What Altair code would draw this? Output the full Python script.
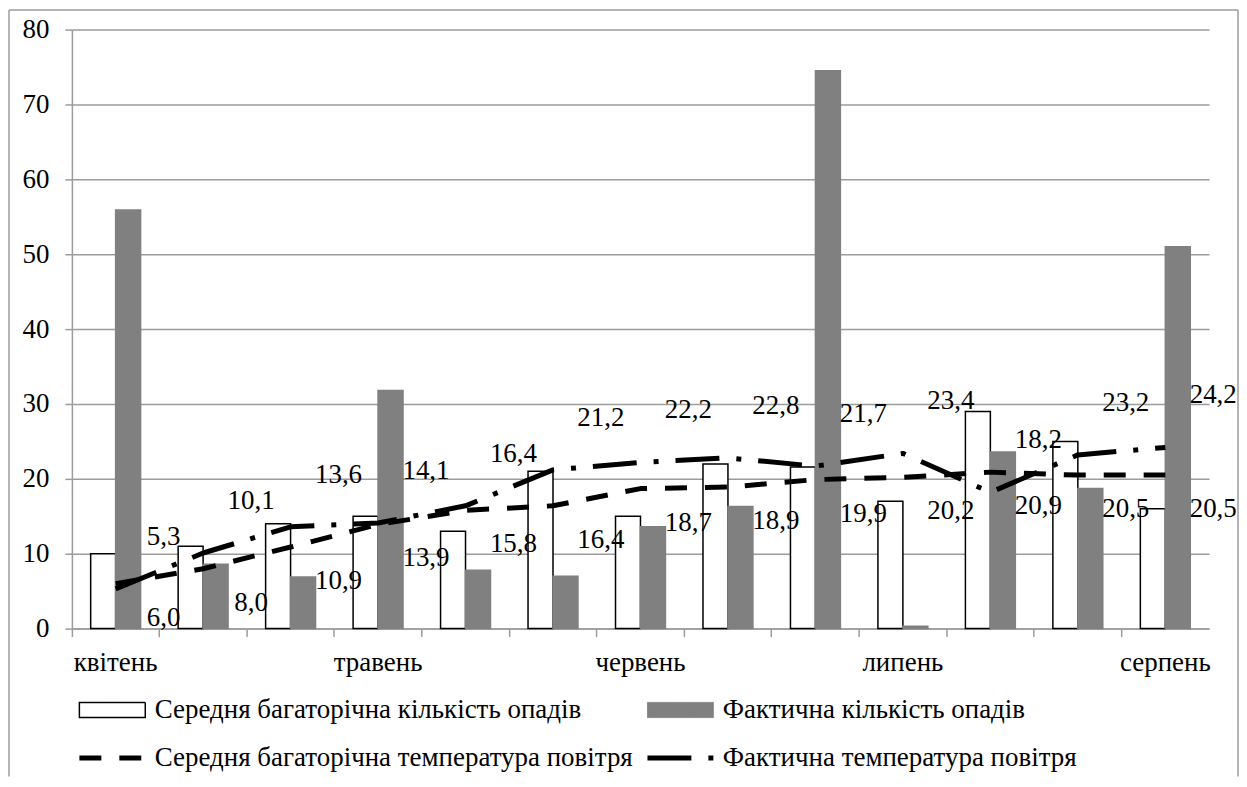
import altair as alt
import pandas as pd

# ---------------- data ----------------
categories = [
    "квітень I", "квітень II", "квітень III",
    "травень I", "травень II", "травень III",
    "червень I", "червень II", "червень III",
    "липень I", "липень II", "липень III",
    "серпень I",
]
mean_precip = [10, 11, 14, 15, 13, 21, 15, 22, 21.6, 17, 29, 25, 16]
fact_precip = [55.9, 8.6, 6.9, 31.8, 7.8, 7.0, 13.6, 16.3, 74.5, 0.3, 23.6, 18.7, 51.0]
mean_temp = [6.0, 8.0, 10.9, 13.9, 15.8, 16.4, 18.7, 18.9, 19.9, 20.2, 20.9, 20.5, 20.5]
fact_temp = [5.3, 10.1, 13.6, 14.1, 16.4, 21.2, 22.2, 22.8, 21.7, 23.4, 18.2, 23.2, 24.2]
series = [
    "Середня багаторічна кількість опадів",
    "Фактична кількість опадів",
    "Середня багаторічна температура повітря",
    "Фактична температура повітря",
]
y_ticks = [0, 10, 20, 30, 40, 50, 60, 70, 80]

n = len(categories)
bars = pd.DataFrame({
    "cat": categories * 2,
    "series": [series[0]] * n + [series[1]] * n,
    "value": mean_precip + fact_precip,
})
mean_line = pd.DataFrame({"cat": categories, "series": series[2], "value": mean_temp})
fact_line = pd.DataFrame({"cat": categories, "series": series[3], "value": fact_temp})
lines = pd.concat([mean_line, fact_line], ignore_index=True)

# ---------------- style ----------------
FONT = "Liberation Serif, 'Times New Roman', 'DejaVu Serif', serif"
FS = 27
GRAY = "#9c9c9c"
W, H = 1139, 600

# legend fills column by column: order so rows read (precip, precip) / (temp, temp)
leg_order = [series[0], series[2], series[1], series[3]]
RECT = "M-1,-0.23H1V0.23H-1Z"
fill_scale = alt.Scale(domain=leg_order, range=["white", "white", "#808080", "white"])
stroke_scale = alt.Scale(domain=leg_order, range=["black", "black", "#808080", "black"])
dash_scale = alt.Scale(domain=leg_order, range=[[1, 0], [22, 18], [1, 0], [44, 17, 5, 17]])
shape_scale = alt.Scale(domain=leg_order, range=[RECT, "stroke", RECT, "stroke"])
sw_scale = alt.Scale(type="ordinal", domain=leg_order, range=[1.5, 5, 1, 5])

x_enc = alt.X(
    "cat:N", sort=categories,
    scale=alt.Scale(domain=categories, paddingInner=0, paddingOuter=0),
    axis=alt.Axis(
        title=None, labelAngle=0, bandPosition=0,
        labelExpr="split(datum.value, ' ')[1] == 'I' ? split(datum.value, ' ')[0] : ''",
        labelFont=FONT, labelFontSize=FS, labelColor="black", labelPadding=13,
        domainColor=GRAY, domainWidth=1.5, tickColor=GRAY, tickWidth=1.5, tickSize=8,
        grid=False, labelOverlap=False,
    ),
)
y_enc = alt.Y(
    "value:Q", scale=alt.Scale(domain=[0, 80], nice=False),
    axis=alt.Axis(
        title=None, values=y_ticks, grid=True, gridColor=GRAY, gridWidth=1.5,
        labelFont=FONT, labelFontSize=FS, labelColor="black", labelPadding=16,
        domainColor=GRAY, domainWidth=1.5, tickColor=GRAY, tickWidth=1.5, tickSize=7,
    ),
)

leg = alt.Legend(
    title=None, orient="none", legendX=5, legendY=668, columns=2,
    symbolSize=4356, clipHeight=27, symbolOffset=0,
    labelFont=FONT, labelFontSize=FS, labelColor="black", labelOffset=7,
    labelLimit=900, rowPadding=20, columnPadding=11, padding=0,
)
legend_layer = alt.Chart(lines).transform_filter("false").mark_point(filled=True, opacity=1).encode(
    fill=alt.Fill("series:N", scale=fill_scale, legend=leg),
    stroke=alt.Stroke("series:N", scale=stroke_scale, legend=leg),
    strokeDash=alt.StrokeDash("series:N", scale=dash_scale, legend=leg),
    shape=alt.Shape("series:N", scale=shape_scale, legend=leg),
    strokeWidth=alt.StrokeWidth("series:N", scale=sw_scale, legend=leg),
)

bar_layer = alt.Chart(bars).mark_bar(strokeWidth=1.5).encode(
    x=x_enc,
    xOffset=alt.XOffset("series:N", sort=series[:2],
                        scale=alt.Scale(domain=series[:2], paddingInner=0, paddingOuter=0.752)),
    y=y_enc,
    fill=alt.Fill("series:N", scale=fill_scale),
    stroke=alt.Stroke("series:N", scale=stroke_scale),
)

line_layer = alt.Chart(lines).mark_line(strokeWidth=5, strokeCap="butt", strokeJoin="round").encode(
    x=x_enc,
    y=y_enc,
    stroke=alt.Stroke("series:N", scale=stroke_scale),
    strokeDash=alt.StrokeDash("series:N", scale=dash_scale),
)

label_calc = "replace(format(datum.value, '.1f'), '.', ',')"
fact_text = alt.Chart(fact_line).transform_calculate(label=label_calc).mark_text(
    font=FONT, fontSize=FS, color="black", dx=48, dy=-52, align="center", baseline="middle"
).encode(x=x_enc, y=y_enc, text="label:N")
mean_text = alt.Chart(mean_line).transform_calculate(label=label_calc).mark_text(
    font=FONT, fontSize=FS, color="black", dx=48, dy=34, align="center", baseline="middle"
).encode(x=x_enc, y=y_enc, text="label:N")

# outer chart-area frame (open at the bottom, as in the cropped original)
one = pd.DataFrame({"k": [0]})
frame_top = alt.Chart(one).mark_rule(color=GRAY, strokeWidth=1.5).encode(
    x=alt.value(-63), x2=alt.value(1168), y=alt.value(-19.5))
frame_left = alt.Chart(one).mark_rule(color=GRAY, strokeWidth=1.5).encode(
    x=alt.value(-63), y=alt.value(-19.5), y2=alt.value(748))
frame_right = alt.Chart(one).mark_rule(color=GRAY, strokeWidth=1.5).encode(
    x=alt.value(1168), y=alt.value(-19.5), y2=alt.value(748))

chart = alt.layer(
    legend_layer, bar_layer, line_layer, fact_text, mean_text,
    frame_top, frame_left, frame_right,
).properties(
    width=W, height=H, padding=0, background="white"
).configure_view(stroke=None)

chart.save("out.html", embed_options={"renderer": "svg", "actions": False})
